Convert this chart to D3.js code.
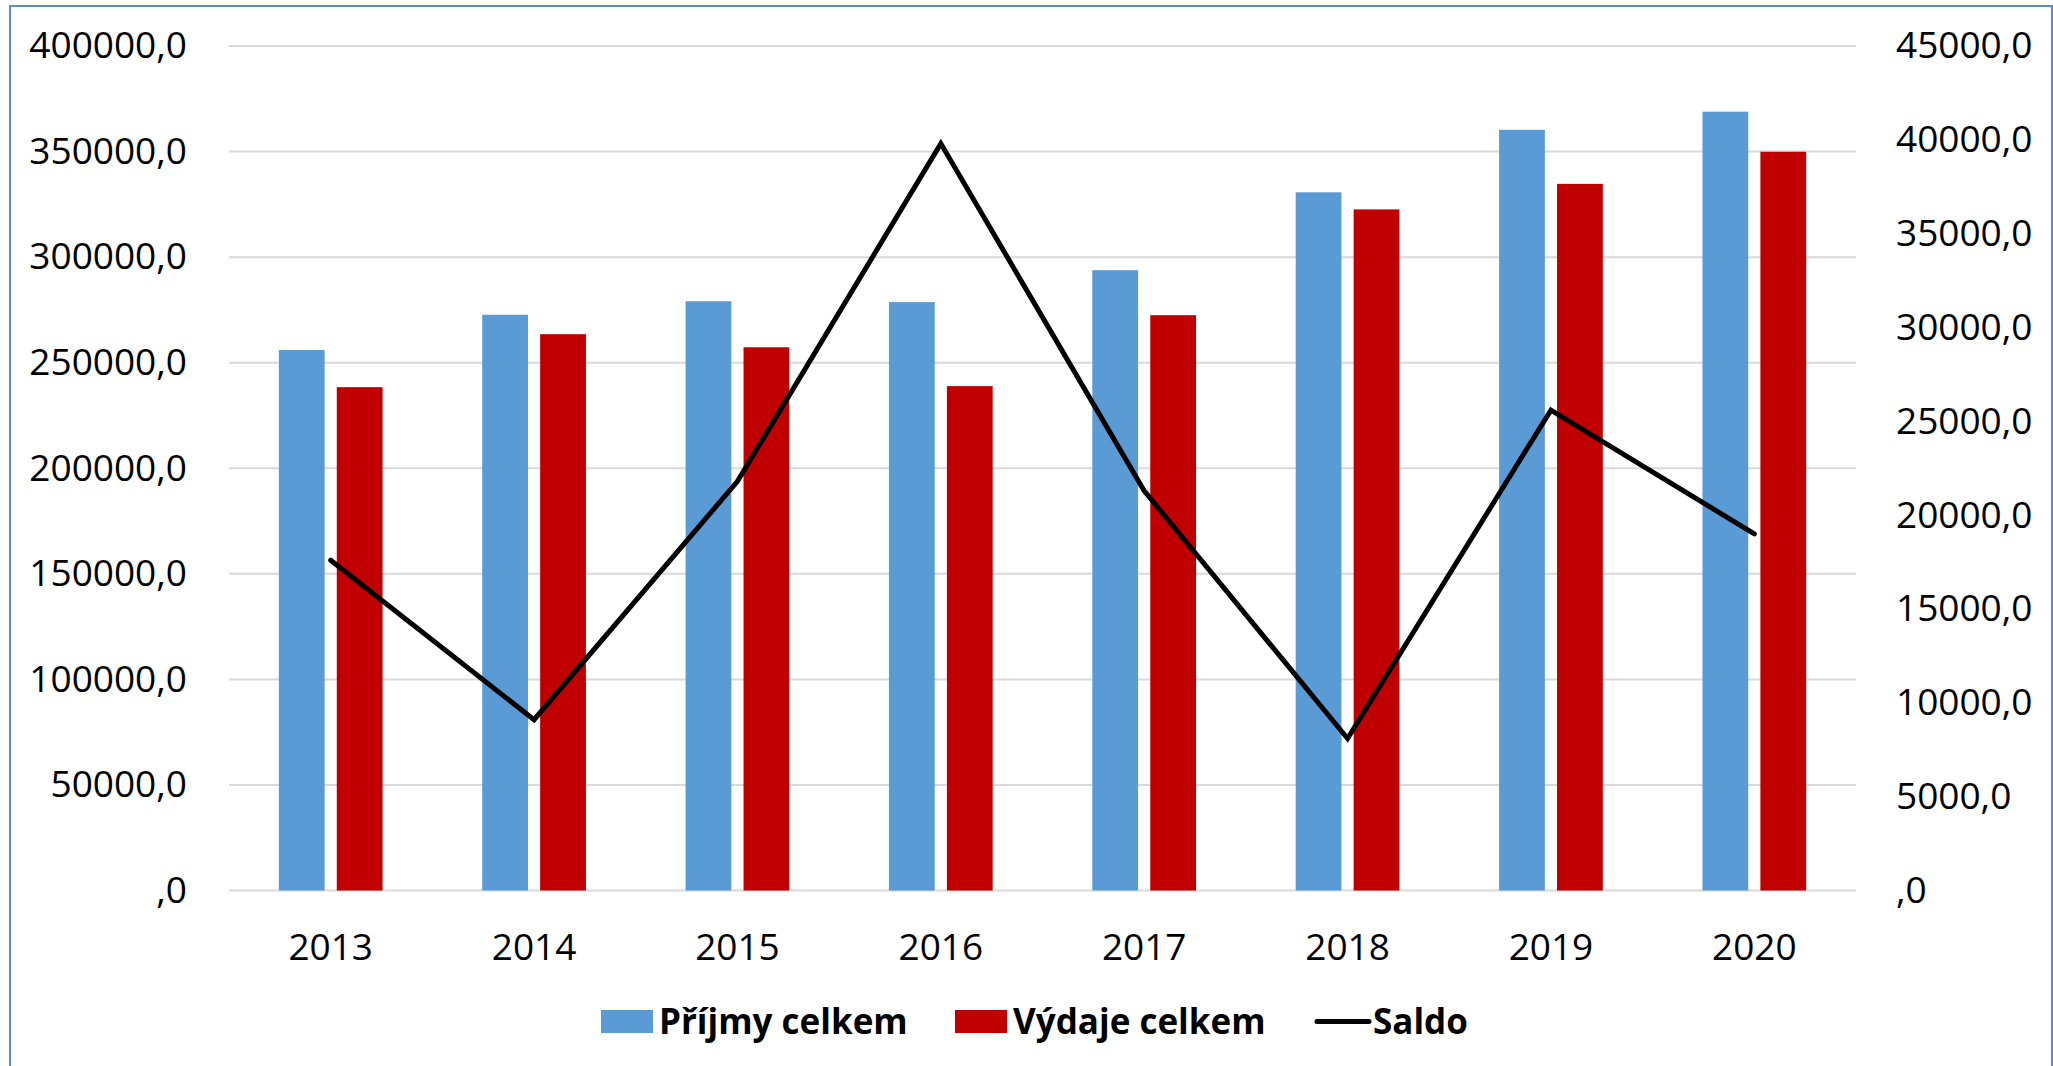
<!DOCTYPE html>
<html>
<head>
<meta charset="utf-8">
<script src="https://cdn.jsdelivr.net/npm/d3@7"></script>
<style>
  body { margin: 0; background: #fff; }
  text { font-family: "Open Sans", "Noto Sans", sans-serif; fill: #000; }
</style>
</head>
<body>
<div id="chart"></div>
<script>
var years = ["2013","2014","2015","2016","2017","2018","2019","2020"];
var prijmy = [256000, 272700, 279100, 278700, 293800, 330700, 360300, 368900];
var vydaje = [238400, 263500, 257300, 238900, 272500, 322600, 334700, 349900];
var saldo = [17600, 9100, 21800, 39800, 21300, 8100, 25600, 19000];
var leftTicks = [0, 50000, 100000, 150000, 200000, 250000, 300000, 350000, 400000];
var rightTicks = [0, 5000, 10000, 15000, 20000, 25000, 30000, 35000, 40000, 45000];
var seriesNames = ["Příjmy celkem", "Výdaje celkem", "Saldo"];

var WD = 2053, HT = 1066
var margin = { left: 229, right: 197, top: 46, bottom: 175.5 }
var colors = ["#5b9bd5", "#c00000", "#000"]

var svg = d3.select("#chart").append("svg")
    .attr("width", WD)
    .attr("height", HT)

// frame
svg.append("rect")
    .attr("x", 10).attr("y", 6)
    .attr("width", WD - 11).attr("height", HT + 10)
    .attr("fill", "none")
    .attr("stroke", "#5a8ad6")
    .attr("stroke-width", 2)

var x0 = d3.scaleBand().domain(years)
    .range([margin.left, WD - margin.right])
    .paddingInner(0.49).paddingOuter(0.245)
var x1 = d3.scaleBand().domain([0, 1])
    .range([0, x0.bandwidth()]).paddingInner(0.21)
var yL = d3.scaleLinear().domain([0, 400000]).range([HT - margin.bottom, margin.top])
var yR = d3.scaleLinear().domain([0, 45000]).range([HT - margin.bottom, margin.top])

function fmt(v) { return v === 0 ? ",0" : d3.format(".1f")(v).replace(".", ","); }

// gridlines
svg.append("g").selectAll("line")
    .data(leftTicks).enter().append("line")
    .attr("x1", margin.left).attr("x2", WD - margin.right)
    .attr("y1", function(d){ return yL(d); })
    .attr("y2", function(d){ return yL(d); })
    .attr("stroke", "#d9d9d9").attr("stroke-width", 2)

// left axis
var gL = svg.append("g")
    .attr("transform", "translate(" + margin.left + ",0)")
    .call(d3.axisLeft(yL).tickValues(leftTicks).tickFormat(fmt).tickSize(0).tickPadding(42))
gL.select(".domain").remove()
gL.selectAll("text").style("font-size", "37px").attr("font-family", null)

// right axis
var gR = svg.append("g")
    .attr("transform", "translate(" + (WD - margin.right) + ",0)")
    .call(d3.axisRight(yR).tickValues(rightTicks).tickFormat(fmt).tickSize(0).tickPadding(40))
gR.select(".domain").remove()
gR.selectAll("text").style("font-size", "37px").attr("font-family", null)

// bottom axis labels
var gB = svg.append("g")
    .attr("transform", "translate(0," + yL(0) + ")")
    .call(d3.axisBottom(x0).tickSize(0).tickPadding(43))
gB.select(".domain").remove()
gB.selectAll("text").style("font-size", "37px").attr("font-family", null)

// bars
var bars = [prijmy, vydaje]
bars.forEach(function(vals, s) {
  svg.append("g").selectAll("rect")
    .data(vals).enter().append("rect")
      .attr("x", function(d, i){ return x0(years[i]) + x1(s); })
      .attr("width", x1.bandwidth())
      .attr("y", function(d){ return yL(d); })
      .attr("height", function(d){ return yL(0) - yL(d); })
      .attr("fill", colors[s])
})

// saldo line
var line = d3.line()
    .x(function(d, i){ return x0(years[i]) + x0.bandwidth() / 2; })
    .y(function(d){ return yR(d); })
svg.append("path")
    .datum(saldo)
    .attr("d", line)
    .attr("fill", "none")
    .attr("stroke", colors[2])
    .attr("stroke-width", 5)
    .attr("stroke-linejoin", "miter")
    .attr("stroke-linecap", "round")

// legend
var lg = svg.append("g")
var keyX = [601, 955, 1315]
var ly = 1021.5
seriesNames.forEach(function(name, i) {
  if (i < 2) {
    lg.append("rect")
      .attr("x", keyX[i]).attr("y", ly - 11.5)
      .attr("width", 52).attr("height", 23)
      .attr("fill", colors[i])
  } else {
    lg.append("line")
      .attr("x1", keyX[i] + 2).attr("x2", keyX[i] + 54)
      .attr("y1", ly).attr("y2", ly)
      .attr("stroke", colors[i]).attr("stroke-width", 5)
      .attr("stroke-linecap", "round")
  }
  lg.append("text")
    .attr("x", keyX[i] + 58).attr("y", ly)
    .attr("dy", "0.35em")
    .style("font-size", "35px")
    .style("font-weight", "bold")
    .text(name)
})
</script>
</body>
</html>
